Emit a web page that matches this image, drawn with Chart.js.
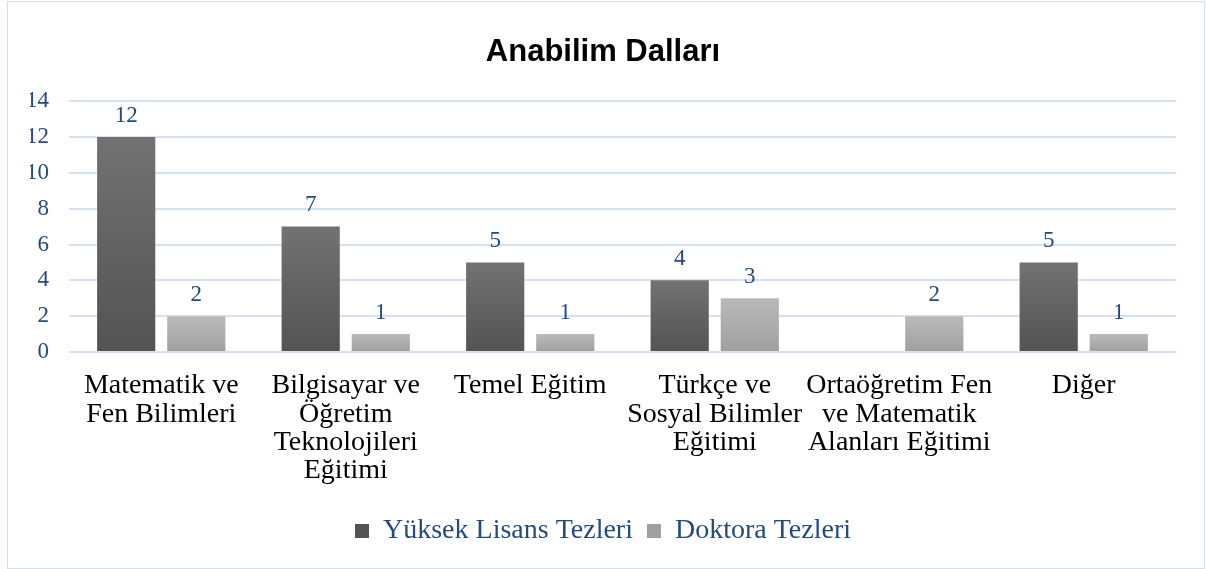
<!DOCTYPE html>
<html>
<head>
<meta charset="utf-8">
<script src="https://cdn.jsdelivr.net/npm/chart.js@4/dist/chart.umd.min.js"></script>
<style>
  body { margin: 0; background: #fff; }
  #wrap { position: relative; width: 1206px; height: 569px; }
  #frame { position: absolute; left: 7px; top: 1px; width: 1196px; height: 566px;
           border: 1px solid #d5dfec; pointer-events: none; }
</style>
</head>
<body>
<div id="wrap">
  <canvas id="myChart" width="1206" height="569"></canvas>
  <div id="frame"></div>
</div>
<script>
// categories (multi-line labels as in the original)
const categories = [
  ['Matematik ve', 'Fen Bilimleri'],
  ['Bilgisayar ve', 'Öğretim', 'Teknolojileri', 'Eğitimi'],
  ['Temel Eğitim'],
  ['Türkçe ve', 'Sosyal Bilimler', 'Eğitimi'],
  ['Ortaöğretim Fen', 've Matematik', 'Alanları Eğitimi'],
  ['Diğer']
];
const yuksekLisans = [12, 7, 5, 4, null, 5];
const doktora = [2, 1, 1, 3, 2, 1];
const seriesNames = ['Yüksek Lisans Tezleri', 'Doktora Tezleri'];

const blue = '#254a80';
const serif = "'Liberation Serif', 'Times New Roman', serif";

// vertical gradient per bar, from its top to the zero line
const barGradient = (top, bottom, flat) => (c) => {
  const chart = c.chart;
  if (!chart.chartArea || c.raw == null || c.type !== 'data') return flat;
  const y = chart.scales.y;
  const g = chart.ctx.createLinearGradient(0, y.getPixelForValue(c.raw), 0, y.getPixelForValue(0));
  g.addColorStop(0, top);
  g.addColorStop(1, bottom);
  return g;
};

// value labels above the bars
const valueLabels = {
  id: 'valueLabels',
  afterDatasetsDraw(chart) {
    const ctx = chart.ctx;
    ctx.save();
    ctx.font = '23px ' + serif;
    ctx.fillStyle = blue;
    ctx.textAlign = 'center';
    ctx.textBaseline = 'bottom';
    chart.data.datasets.forEach((ds, i) => {
      chart.getDatasetMeta(i).data.forEach((bar, j) => {
        if (ds.data[j] == null) return;
        ctx.fillText(String(ds.data[j]), bar.x, bar.y - 10);
      });
    });
    ctx.restore();
  }
};

const ctx = document.getElementById('myChart').getContext('2d');
new Chart(ctx, {
  type: 'bar',
  data: {
    labels: categories,
    datasets: [
      {
        label: seriesNames[0],
        data: yuksekLisans,
        backgroundColor: barGradient('#727272', '#535353', '#626262'),
        categoryPercentage: 0.76,
        barPercentage: 0.83
      },
      {
        label: seriesNames[1],
        data: doktora,
        backgroundColor: barGradient('#bababa', '#9f9f9f', '#b0b0b0'),
        categoryPercentage: 0.76,
        barPercentage: 0.83
      }
    ]
  },
  options: {
    responsive: false,
    animation: false,
    layout: { padding: { left: 30, right: 30, top: 0, bottom: 14 } },
    plugins: {
      title: {
        display: true,
        text: 'Anabilim Dalları',
        color: '#000',
        font: { family: "'Liberation Sans', Arial, sans-serif", size: 31, weight: 'bold' },
        padding: { top: 34, bottom: 30 }
      },
      legend: {
        position: 'bottom',
        labels: {
          color: blue,
          font: { family: serif, size: 28 },
          boxWidth: 14,
          boxHeight: 14,
          padding: 14
        }
      },
      tooltip: { enabled: false }
    },
    scales: {
      x: {
        grid: { display: false },
        border: { display: false },
        ticks: {
          color: '#000',
          font: { family: serif, size: 28, lineHeight: 1.01 },
          maxRotation: 0,
          autoSkip: false,
          padding: 12
        },
        afterFit(scale) { scale.height = 151; }
      },
      y: {
        min: 0,
        max: 14,
        ticks: {
          stepSize: 2,
          color: blue,
          font: { family: serif, size: 23 },
          padding: 20
        },
        grid: { color: '#d6e2f1', lineWidth: 2, drawTicks: false },
        border: { display: false },
        afterFit(scale) { scale.width = 39; }
      }
    }
  },
  plugins: [valueLabels]
});
</script>
</body>
</html>
